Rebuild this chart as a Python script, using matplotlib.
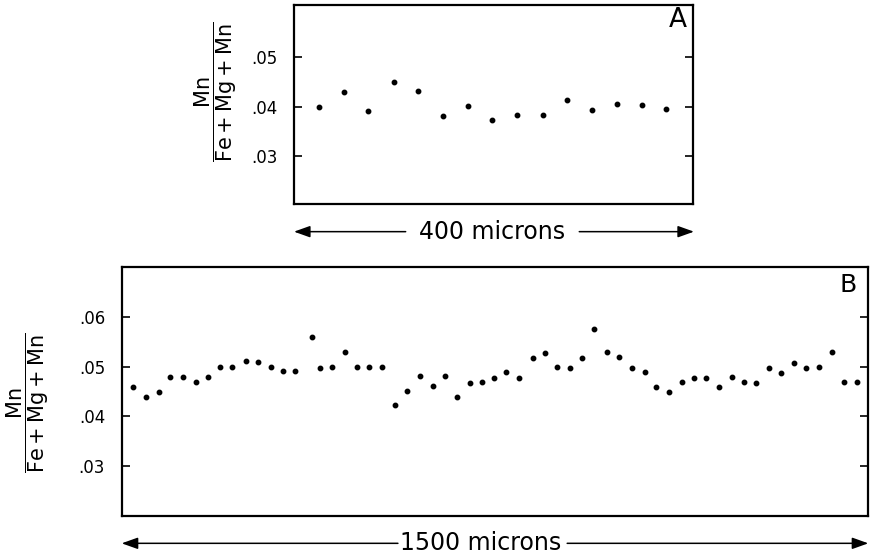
import matplotlib
matplotlib.use('Agg')
import matplotlib.pyplot as plt

# panel A: 400 micron traverse
a_microns = [25, 50, 74, 100, 124, 149, 174, 199, 224, 250, 274, 299, 324, 349, 373]
a_mn = [0.0399, 0.0429, 0.0391, 0.0451, 0.0431, 0.0382, 0.0401, 0.0373,
        0.0383, 0.0383, 0.0414, 0.0393, 0.0405, 0.0404, 0.0395]

# panel B: 1500 micron traverse
b_microns = [23, 49, 74, 98, 124, 149, 174, 198, 222, 249, 274, 299, 324, 348,
             383, 398, 423, 448, 473, 497, 524, 550, 573, 599, 625, 649, 674,
             699, 723, 749, 773, 799, 826, 850, 875, 901, 924, 949, 975, 1000,
             1025, 1051, 1074, 1099, 1125, 1149, 1173, 1200, 1226, 1250, 1275,
             1300, 1324, 1351, 1375, 1400, 1427, 1451, 1477]
b_mn = [0.0459, 0.0439, 0.0450, 0.0480, 0.0479, 0.0469, 0.0479, 0.0499,
        0.0499, 0.0511, 0.0509, 0.0500, 0.0491, 0.0491, 0.0561, 0.0498,
        0.0499, 0.0530, 0.0500, 0.0500, 0.0500, 0.0422, 0.0452, 0.0481,
        0.0461, 0.0481, 0.0439, 0.0468, 0.0469, 0.0478, 0.0489, 0.0478,
        0.0517, 0.0528, 0.0499, 0.0498, 0.0518, 0.0577, 0.0529, 0.0519,
        0.0498, 0.0490, 0.0459, 0.0449, 0.0469, 0.0477, 0.0478, 0.0459,
        0.0479, 0.0469, 0.0468, 0.0498, 0.0488, 0.0507, 0.0498, 0.0499,
        0.0530, 0.0470, 0.0469]

a_ticks = [0.03, 0.04, 0.05]
a_ticklabels = ['.03', '.04', '.05']
b_ticks = [0.03, 0.04, 0.05, 0.06]
b_ticklabels = ['.03', '.04', '.05', '.06']

ylabel = r'$\dfrac{\mathrm{Mn}}{\mathrm{Fe+Mg+Mn}}$'

fig = plt.figure(figsize=(8.71, 5.56), dpi=100)

axA = fig.add_axes([0.3375, 0.6331, 0.4581, 0.3579])
axB = fig.add_axes([0.1397, 0.0719, 0.8572, 0.4484])


def style_panel(ax, ticks, labels, xmax, ylim):
    ax.set_xlim(0, xmax)
    ax.set_ylim(*ylim)
    ax.set_xticks([])
    ax.set_yticks(ticks)
    ax.set_yticklabels(labels)
    ax.tick_params(axis='y', direction='in', length=6, width=1.2,
                   left=True, right=True, labelsize=12, pad=12)
    for s in ax.spines.values():
        s.set_linewidth(1.6)


axA.plot(a_microns, a_mn, 'o', color='black', ms=3.2)
style_panel(axA, a_ticks, a_ticklabels, 400, (0.0203, 0.0606))
axA.text(0.962, 0.925, 'A', transform=axA.transAxes, ha='center', va='center',
         fontsize=19)

axB.plot(b_microns, b_mn, 'o', color='black', ms=3.2)
style_panel(axB, b_ticks, b_ticklabels, 1500, (0.0199, 0.0702))
axB.text(0.973, 0.927, 'B', transform=axB.transAxes, ha='center', va='center',
         fontsize=18)

# y axis labels (fractions)
fig.text(0.2475, 0.8354, ylabel, rotation=90, ha='center', va='center', fontsize=15)
fig.text(0.0320, 0.276, ylabel, rotation=90, ha='center', va='center', fontsize=15)

# scale arrows under each panel
arrow = dict(arrowstyle='-|>,head_length=0.7,head_width=0.25', color='black',
             lw=1.1, shrinkA=0, shrinkB=0, mutation_scale=14)
ya = -0.139
axA.annotate('', xy=(0, ya), xytext=(112, ya), xycoords=('data', 'axes fraction'),
             arrowprops=arrow, annotation_clip=False)
axA.annotate('', xy=(401, ya), xytext=(286, ya), xycoords=('data', 'axes fraction'),
             arrowprops=arrow, annotation_clip=False)
axA.text(199, ya, '400 microns', transform=axA.get_xaxis_transform(),
         ha='center', va='center', fontsize=17)

yb = -0.1095
axB.annotate('', xy=(0, yb), xytext=(555, yb), xycoords=('data', 'axes fraction'),
             arrowprops=arrow, annotation_clip=False)
axB.annotate('', xy=(1500, yb), xytext=(895, yb), xycoords=('data', 'axes fraction'),
             arrowprops=arrow, annotation_clip=False)
axB.text(722, yb, '1500 microns', transform=axB.get_xaxis_transform(),
         ha='center', va='center', fontsize=17)

plt.savefig('out.png', dpi=100)
